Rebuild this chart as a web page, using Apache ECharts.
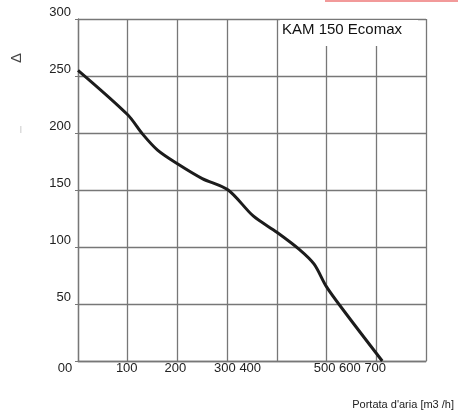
<!DOCTYPE html>
<html>
<head>
<meta charset="utf-8" />
<title>KAM 150 Ecomax</title>
<script src="https://cdn.jsdelivr.net/npm/echarts@6/dist/echarts.min.js"></script>
<style>
  html, body { margin: 0; padding: 0; background: #fff; }
  #chart { width: 458px; height: 416px; }
</style>
</head>
<body>
<div id="chart"></div>
<script>
  // portata (m3/h) e pressione (Pa)
  var flow = [0, 100, 130, 160, 200, 250, 302, 353, 400, 445, 475, 500, 540, 612];
  var pressure = [255, 216, 199, 185, 173, 160, 150, 127, 113, 98, 85, 65, 41, 0];

  // etichette degli assi come appaiono nell'originale
  var xLabelPos = [0, 98, 196, 321, 547];
  var xLabelText = ['00', '100', '200', '300 400', '500 600 700'];
  var yTicks = [0, 50, 100, 150, 200, 250, 300];
  var yLabelText = ['', '50', '100', '150', '200', '250', '300'];

  var chartTitle = 'KAM 150 Ecomax';
  var xName = "Portata d'aria [m3 /h]";
  var yName = 'Δ';

  var points = flow.map(function (x, i) { return [x, pressure[i]]; });
  var font = 'Liberation Sans, Arial, sans-serif';
  var gridColor = '#777';

  var myChart = echarts.init(document.getElementById('chart'), null, { renderer: 'canvas' });

  var option = {
    animation: false,
    backgroundColor: '#fff',
    title: {
      text: chartTitle,
      left: 280,
      top: 20,
      padding: [2, 16, 9, 2],
      backgroundColor: '#fff',
      textStyle: { fontFamily: font, fontSize: 15, fontWeight: 'normal', color: '#111' }
    },
    grid: { left: 78, right: 32, top: 19, bottom: 55, containLabel: false, outerBoundsMode: 'none' },
    xAxis: {
      type: 'value',
      min: 0,
      max: 700,
      interval: 100,
      name: xName,
      nameLocation: 'end',
      nameGap: 28,
      nameTextStyle: { fontFamily: font, fontSize: 11, color: '#222', align: 'right', verticalAlign: 'top', padding: [38, 0, 0, 0] },
      axisLine: { lineStyle: { color: gridColor, width: 1.3 } },
      axisTick: { show: false },
      splitLine: { show: true, lineStyle: { color: gridColor, width: 1.3 } },
      axisLabel: {
        customValues: xLabelPos,
        margin: 1,
        fontFamily: font,
        fontSize: 13,
        color: '#222',
        formatter: function (v) {
          var i = xLabelPos.indexOf(v);
          if (i < 0) return '';
          return i === 0 ? '{z|' + xLabelText[i] + '}' : xLabelText[i];
        },
        rich: {
          z: { fontFamily: font, fontSize: 13, color: '#222', padding: [0, 26, 0, 0] }
        }
      }
    },
    yAxis: {
      type: 'value',
      min: 0,
      max: 300,
      interval: 50,
      axisLine: { show: true, lineStyle: { color: gridColor, width: 1.3 } },
      axisTick: { show: true, length: 3, lineStyle: { color: gridColor } },
      splitLine: { show: true, lineStyle: { color: gridColor, width: 1.3 } },
      axisLabel: {
        margin: 7,
        verticalAlign: 'bottom',
        fontFamily: font,
        fontSize: 13,
        color: '#222',
        formatter: function (v) {
          var i = yTicks.indexOf(v);
          return i < 0 ? '' : yLabelText[i];
        }
      }
    },
    graphic: [
      { type: 'rect', left: 325, top: 0, shape: { width: 133, height: 2 }, style: { fill: '#f29a9a' } },
      { type: 'text', left: 9, top: 53, rotation: Math.PI / 2, originX: 0, originY: 0,
        style: { text: yName, fontFamily: font, fontSize: 15, fill: '#444' } },
      { type: 'text', left: 20, top: 126, style: { text: '|', fontFamily: font, fontSize: 7, fill: '#aaa' } }
    ],
    series: [
      {
        type: 'line',
        data: points,
        smooth: 0.3,
        showSymbol: false,
        symbol: 'none',
        lineStyle: { color: '#1c1c1c', width: 3 }
      }
    ]
  };

  myChart.setOption(option);
</script>
</body>
</html>
